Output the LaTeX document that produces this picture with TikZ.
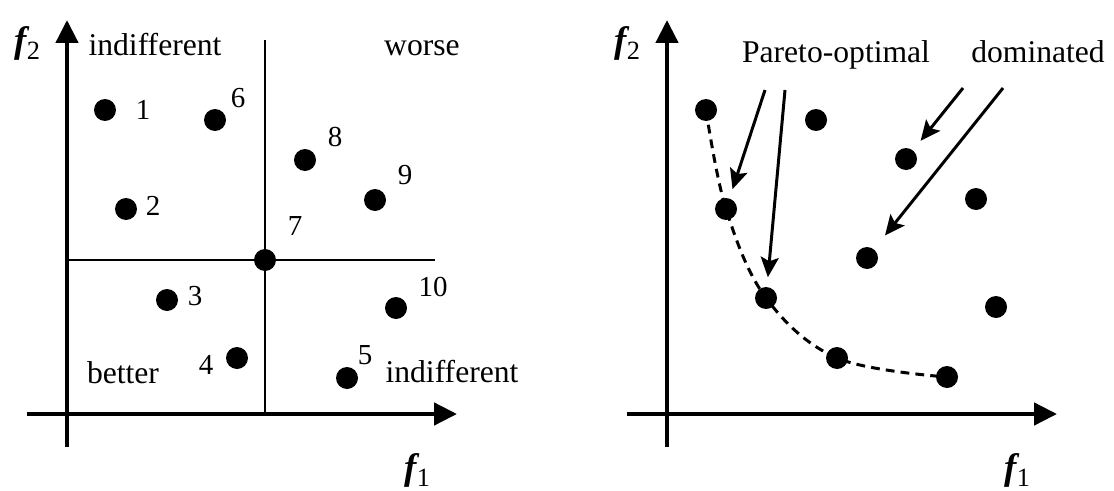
\documentclass[tikz,border=0pt]{standalone}
\usepackage{fontspec}
\setmainfont{Liberation Serif}
\usetikzlibrary{positioning,arrows.meta}

\newcommand{\objlabel}[1]{{\fontsize{21}{23}\selectfont\bfseries\itshape f}\kern0.3pt\raisebox{-4pt}{\fontsize{15}{16}\selectfont #1}}

\begin{document}
\begin{tikzpicture}[
    x=0.02cm, y=-0.02cm,
    axis/.style={line width=2.6pt,-{Triangle[length=4.6mm,width=4.4mm]}},
    divider/.style={line width=1.3pt},
    dot/.style={circle,fill,inner sep=0pt,minimum size=0.44cm},
    num/.style={font=\fontsize{16.5}{18}\selectfont,inner sep=0pt},
    region/.style={font=\fontsize{18}{20}\selectfont,inner sep=0pt,anchor=base},
    objective/.style={inner sep=0pt},
    pointer/.style={line width=1.7pt,-{Stealth[length=4mm,width=3.6mm,inset=0.8mm]}},
    front/.style={line width=1.7pt,dash pattern=on 5pt off 3.5pt}
]
\useasboundingbox (0,0) rectangle (1114,490);

% left panel: regions round point 7
\coordinate (lx0) at (27,414);
\coordinate (lx1) at (457,414);
\coordinate (ly0) at (67,447);
\coordinate (ly1) at (67,20);
\coordinate (vtop) at (265,40);
\coordinate (vbot) at (265,413);
\coordinate (hleft) at (67,260);
\coordinate (hright) at (435,260);

\draw[divider] (vtop) -- (vbot);
\draw[divider] (hleft) -- (hright);
\draw[axis] (lx0) -- (lx1);
\draw[axis] (ly0) -- (ly1);

\node[objective] (lf2) at (27,43) {\objlabel{2}};
\node[objective] (lf1) at (417,470) {\objlabel{1}};

\node[region] (indiff1) at (155,55) {indifferent};
\node[region] (worse) at (422,55) {worse};
\node[region] (better) at (123,383) {better};
\node[region] (indiff2) at (452,382) {indifferent};

\node[dot] (d1) at (105,110) {};
\node[dot] (d2) at (126,209) {};
\node[dot] (d3) at (167,300) {};
\node[dot] (d4) at (237,358) {};
\node[dot] (d5) at (347,378) {};
\node[dot] (d6) at (215,120) {};
\node[dot] (d7) at (265,260) {};
\node[dot] (d8) at (305,160) {};
\node[dot] (d9) at (375,200) {};
\node[dot] (d10) at (396,308) {};

\node[num] (n1) at (143,110) {1};
\node[num] (n2) at (153,206) {2};
\node[num] (n3) at (195,296) {3};
\node[num] (n4) at (206,365) {4};
\node[num] (n5) at (365,355) {5};
\node[num] (n6) at (238,98) {6};
\node[num] (n7) at (295,226) {7};
\node[num] (n8) at (335,137) {8};
\node[num] (n9) at (405,175) {9};
\node[num] (n10) at (433,287) {10};

% right panel: Pareto front
\coordinate (rx0) at (627,414);
\coordinate (rx1) at (1057,414);
\coordinate (ry0) at (667,447);
\coordinate (ry1) at (667,20);

\draw[axis] (rx0) -- (rx1);
\draw[axis] (ry0) -- (ry1);

\node[objective] (rf2) at (627,43) {\objlabel{2}};
\node[objective] (rf1) at (1017,470) {\objlabel{1}};

\node[region] (pareto) at (836,62) {Pareto-optimal};
\node[region] (dominated) at (1038,62) {dominated};

\node[dot] (po1) at (706,110) {};
\node[dot] (po2) at (726,209) {};
\node[dot] (po3) at (766,298) {};
\node[dot] (po4) at (837,358) {};
\node[dot] (po5) at (947,377) {};
\node[dot] (dm1) at (816,120) {};
\node[dot] (dm2) at (906,159) {};
\node[dot] (dm3) at (976,199) {};
\node[dot] (dm4) at (867,258) {};
\node[dot] (dm5) at (996,307) {};

\draw[front] plot[smooth,tension=0.6] coordinates {(po1) (po2) (po3) (po4) (po5)};

\coordinate (ps1) at (765,90);
\coordinate (ps2) at (785,90);
\coordinate (ds1) at (963,88);
\coordinate (ds2) at (1003,88);

\draw[pointer,shorten >=0.19cm] (ps1) -- (po2);
\draw[pointer,shorten >=0.19cm] (ps2) -- (po3);
\draw[pointer,shorten >=0.24cm] (ds1) -- (dm2);
\draw[pointer,shorten >=0.35cm] (ds2) -- (dm4);

\end{tikzpicture}
\end{document}
